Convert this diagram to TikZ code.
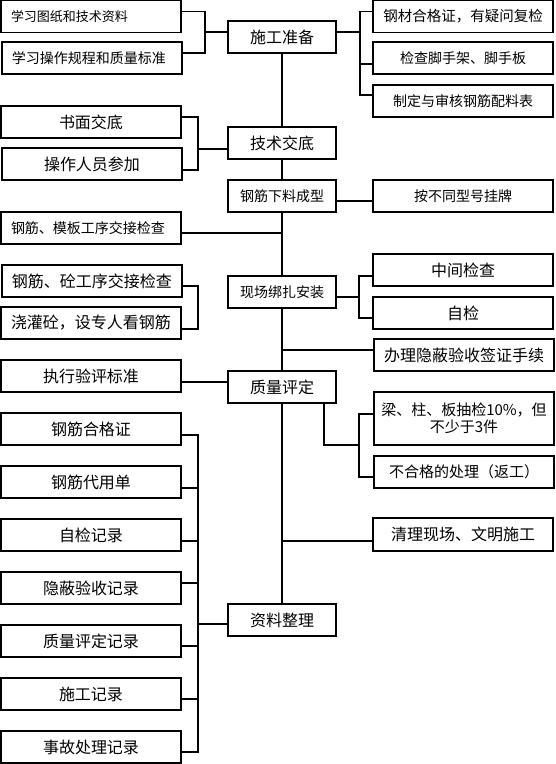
\documentclass[tikz,border=0pt]{standalone}
\usepackage{fontspec}
\setmainfont{Noto Sans CJK SC}
\usetikzlibrary{positioning}

\begin{document}
\begin{tikzpicture}[
  x=1pt, y=-1pt,
  box/.style={rectangle, draw, line width=1.1pt, inner sep=0pt,
              minimum height=32pt, align=center},
  mainbox/.style={box, minimum width=108pt},
  sidebox/.style={box, minimum width=180pt},
  leftpad/.style={align=left, text width=160pt},
  fs/.style={font=\fontsize{#1}{17}\selectfont},
  link/.style={line width=1.1pt},
  node distance=19.9pt,
]
  \useasboundingbox (0,0) rectangle (555,764);

  % main column
  \node[mainbox, fs=16] (m1) at (282,37)  {施工准备};
  \node[mainbox, fs=16] (m2) at (282,143) {技术交底};
  \node[mainbox, fs=14] (m3) at (282,196) {钢筋下料成型};
  \node[mainbox, fs=14] (m4) at (282,292) {现场绑扎安装};
  \node[mainbox, fs=16] (m5) at (282,387) {质量评定};
  \node[mainbox, fs=16] (m6) at (282,620) {资料整理};

  % left side
  \node[sidebox, leftpad, fs=13] (l1) at (91,16.6) {学习图纸和技术资料};
  \node[sidebox, leftpad, fs=14] (l2) at (92,58)   {学习操作规程和质量标准};
  \node[sidebox, fs=16] (l3) at (91,122) {书面交底};
  \node[sidebox, fs=16] (l4) at (92,164) {操作人员参加};
  \node[sidebox, leftpad, fs=14] (l5) at (91,228) {钢筋、模板工序交接检查};
  \node[sidebox, fs=16] (l6) at (92,281) {钢筋、砼工序交接检查};
  \node[sidebox, fs=16] (l7) at (91,323) {浇灌砼，设专人看钢筋};
  \node[sidebox, fs=16] (l8) at (91,376) {执行验评标准};
  \node[sidebox, fs=16] (l9) at (91,429) {钢筋合格证};
  \node[sidebox, fs=16, below=of l9]  (l10) {钢筋代用单};
  \node[sidebox, fs=16, below=of l10] (l11) {自检记录};
  \node[sidebox, fs=16, below=of l11] (l12) {隐蔽验收记录};
  \node[sidebox, fs=16, below=of l12] (l13) {质量评定记录};
  \node[sidebox, fs=16, below=of l13] (l14) {施工记录};
  \node[sidebox, fs=16, below=of l14] (l15) {事故处理记录};

  % right side
  \node[sidebox, fs=14.5] (r1) at (463,16.6) {钢材合格证，有疑问复检};
  \node[sidebox, fs=14] (r2) at (463,58)  {检查脚手架、脚手板};
  \node[sidebox, fs=14] (r3) at (463,101) {制定与审核钢筋配料表};
  \node[sidebox, fs=14] (r4) at (463,196) {按不同型号挂牌};
  \node[sidebox, fs=16] (r5) at (463,270) {中间检查};
  \node[sidebox, fs=16] (r6) at (463,313) {自检};
  \node[sidebox, fs=16] (r7) at (464,355) {办理隐蔽验收签证手续};
  \node[sidebox, fs=15, minimum height=53pt] (r8) at (464,418.5)
    {梁、柱、板抽检10\%，但\\不少于3件};
  \node[sidebox, fs=15] (r9)  at (464,472)   {不合格的处理（返工）};
  \node[sidebox, fs=16, minimum height=33pt] (r10) at (463,534.5) {清理现场、文明施工};

  % junctions
  \coordinate (ja) at (205,32);
  \coordinate (jb) at (360,32);
  \coordinate (jc) at (198,149);
  \coordinate (jd) at (359,297);
  \coordinate (je) at (198,308);
  \coordinate (jf) at (359,445);
  \coordinate (jg) at (198,624);

  % spine
  \foreach \a/\b in {m1/m2, m2/m3, m3/m4, m4/m5, m5/m6}
    \draw[link] (\a) -- (\b);

  % brackets
  \draw[link] ([yshift=5pt]l1.east) -| (ja) |- ([yshift=5pt]l2.east);
  \draw[link] (ja) -- ([yshift=5pt]m1.west);
  \draw[link] ([yshift=5pt]m1.east) -- (jb);
  \draw[link] ([yshift=5pt]r1.west) -| (jb) |- ([yshift=6pt]r3.west);
  \draw[link] ([yshift=-6pt]r2.west) -| (jb);

  \draw[link] ([yshift=5pt]l3.east) -| (jc) |- ([yshift=-6pt]l4.east);
  \draw[link] (jc) -- ([yshift=-6pt]m2.west);

  \draw[link] ([yshift=-5pt]m3.east) -- ([yshift=-5pt]r4.west);
  \draw[link] ([yshift=-5pt]l5.east) -| (m3.south);

  \draw[link] ([yshift=-5pt]m4.east) -- (jd);
  \draw[link] ([yshift=-6pt]r5.west) -| (jd) |- ([yshift=-5pt]r6.west);
  \draw[link] ([yshift=-5pt]l6.east) -| (je) |- ([yshift=-6pt]l7.east);
  \draw[link] ([yshift=5pt]r7.west) -| (m4.south);

  \draw[link] ([yshift=-6pt]l8.east) -- ([yshift=5pt]m5.west);
  \draw[link] ([xshift=42pt]m5.south) |- (jf);
  \draw[link] ([yshift=4.5pt]r8.west) -| (jf) |- ([yshift=-5pt]r9.west);
  \draw[link] ([yshift=-6.5pt]r10.west) -| (m5.south);

  \foreach \n/\s in {9/-6, 10/-6, 11/-6, 12/5, 13/-5, 14/-5, 15/-5}
    \draw[link] ([yshift=\s pt]l\n.east) -| (jg);
  \draw[link] (jg) -- ([yshift=-4pt]m6.west);
\end{tikzpicture}
\end{document}
